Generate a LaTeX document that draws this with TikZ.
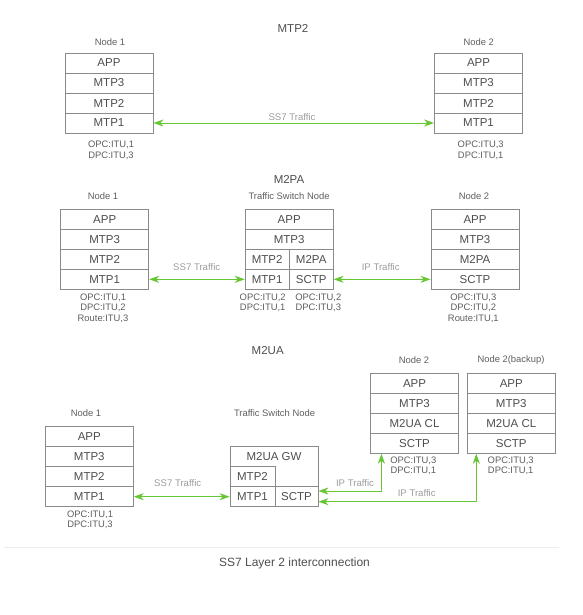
\documentclass[tikz,border=0pt]{standalone}
\usepackage{fontspec}
\setmainfont{Liberation Sans}
\usetikzlibrary{arrows.meta}
\definecolor{boxgray}{HTML}{8A8A8A}
\definecolor{labgray}{HTML}{5E5E5E}
\definecolor{textgray}{HTML}{4E4E4E}
\definecolor{trafgray}{HTML}{9C9C9C}
\definecolor{linkgreen}{HTML}{66C633}
\definecolor{rulegray}{HTML}{EEEEEE}
\begin{document}
\begin{tikzpicture}[x=1pt,y=-1pt,
    cell/.style={draw=boxgray,line width=0.8pt,minimum width=88pt,minimum height=20pt,
      inner sep=0pt,text=textgray,font=\fontsize{11.5}{13}\selectfont},
    lab/.style={text=labgray,font=\fontsize{9.4}{10.6}\selectfont,align=center,inner sep=0pt},
    title/.style={text=textgray,font=\fontsize{11.5}{13}\selectfont,inner sep=0pt},
    tlab/.style={text=trafgray,font=\fontsize{9.6}{11}\selectfont,inner sep=0pt},
    link/.style={draw=linkgreen,line width=1pt,
      {Stealth[length=10pt,width=7pt,inset=3pt]}-{Stealth[length=10pt,width=7pt,inset=3pt]}}]
  \useasboundingbox (0,0) rectangle (582,615);

  % MTP2
  \draw
    (293,28) node[title] (ttl1){MTP2}
    (110,42) node[lab] (a1name){Node 1}
    (109,63) node[cell] (a1app){APP}
    (109,83) node[cell] (a1mtp3){MTP3}
    (109,103) node[cell] (a1mtp2){MTP2}
    (109,123) node[cell] (a1mtp1){MTP1}
    (111,150.3) node[lab] (a1info){OPC:ITU,1\\DPC:ITU,3}
    (478.7,42) node[lab] (a2name){Node 2}
    (478.5,63) node[cell] (a2app){APP}
    (478.5,83) node[cell] (a2mtp3){MTP3}
    (478.5,103) node[cell] (a2mtp2){MTP2}
    (478.5,123) node[cell] (a2mtp1){MTP1}
    (480.7,150.3) node[lab] (a2info){OPC:ITU,3\\DPC:ITU,1}
    (292,117) node[tlab] (a12lab){SS7 Traffic};

  % M2PA
  \draw
    (289,179) node[title] (ttl2){M2PA}
    (103,196) node[lab] (b1name){Node 1}
    (104.7,219.3) node[cell] (b1app){APP}
    (104.7,239.3) node[cell] (b1mtp3){MTP3}
    (104.7,259.3) node[cell] (b1mtp2){MTP2}
    (104.7,279.3) node[cell] (b1mtp1){MTP1}
    (103,308.3) node[lab] (b1info){OPC:ITU,1\\DPC:ITU,2\\Route:ITU,3}
    (289,196) node[lab] (b2name){Traffic Switch Node}
    (289.2,219.3) node[cell] (b2app){APP}
    (289.2,239.3) node[cell] (b2mtp3){MTP3}
    (267.2,259.3) node[cell,minimum width=44pt] (b2mtp2){MTP2}
    (311.2,259.3) node[cell,minimum width=44pt] (b2m2pa){M2PA}
    (267.2,279.3) node[cell,minimum width=44pt] (b2mtp1){MTP1}
    (311.2,279.3) node[cell,minimum width=44pt] (b2sctp){SCTP}
    (262.7,302.7) node[lab] (b2info1){OPC:ITU,2\\DPC:ITU,1}
    (318.3,302.7) node[lab] (b2info2){OPC:ITU,2\\DPC:ITU,3}
    (474,196) node[lab] (b3name){Node 2}
    (475,219.3) node[cell] (b3app){APP}
    (475,239.3) node[cell] (b3mtp3){MTP3}
    (475,259.3) node[cell] (b3m2pa){M2PA}
    (475,279.3) node[cell] (b3sctp){SCTP}
    (473.3,308.3) node[lab] (b3info){OPC:ITU,3\\DPC:ITU,2\\Route:ITU,1}
    (196.7,266.7) node[tlab] (b12lab){SS7 Traffic}
    (380.7,266.7) node[tlab] (b23lab){IP Traffic};

  % M2UA
  \draw
    (267.7,350.7) node[title] (ttl3){M2UA}
    (86,412.7) node[lab] (c1name){Node 1}
    (89.3,436.7) node[cell] (c1app){APP}
    (89.3,456.7) node[cell] (c1mtp3){MTP3}
    (89.3,476.7) node[cell] (c1mtp2){MTP2}
    (89.3,496.7) node[cell] (c1mtp1){MTP1}
    (90,519.7) node[lab] (c1info){OPC:ITU,1\\DPC:ITU,3}
    (274.5,412.7) node[lab] (c2name){Traffic Switch Node}
    (274,476.7) node[cell,minimum height=60pt] (c2box){}
    (274,456.7) node[title] (c2gw){M2UA GW}
    (252.5,476.7) node[cell,minimum width=45pt] (c2mtp2){MTP2}
    (252.5,496.7) node[cell,minimum width=45pt] (c2mtp1){MTP1}
    (296.5,496.7) node[cell,minimum width=43pt] (c2sctp){SCTP}
    (414,360) node[lab] (c3name){Node 2}
    (414.5,383.3) node[cell] (c3app){APP}
    (414.5,403.3) node[cell] (c3mtp3){MTP3}
    (414.5,423.3) node[cell] (c3m2ua){M2UA CL}
    (414.5,443.3) node[cell] (c3sctp){SCTP}
    (413.3,466) node[lab] (c3info){OPC:ITU,3\\DPC:ITU,1}
    (511,360) node[lab] (c4name){Node 2(backup)}
    (511.3,383.3) node[cell] (c4app){APP}
    (511.3,403.3) node[cell] (c4mtp3){MTP3}
    (511.3,423.3) node[cell] (c4m2ua){M2UA CL}
    (511.3,443.3) node[cell] (c4sctp){SCTP}
    (510.7,466) node[lab] (c4info){OPC:ITU,3\\DPC:ITU,1}
    (177.7,483.3) node[tlab] (c12lab){SS7 Traffic}
    (355,483.3) node[tlab] (c23lab){IP Traffic}
    (416.7,493.3) node[tlab] (c24lab){IP Traffic};

  \begin{scope}[link]
    \draw (a1mtp1) to (a2mtp1);
    \draw (b1mtp1) to (b2mtp1);
    \draw (b2sctp) to (b3sctp);
    \draw (c1mtp1) to (c2mtp1);
    \draw ([yshift=5.7pt]c2sctp.east) -| ([xshift=11.3pt]c3sctp.south west);
    \draw ([yshift=-5pt]c2sctp.east) -| ([xshift=9.4pt]c4sctp.south west);
  \end{scope}

  \draw[rulegray,line width=0.8pt] (4,547.7) -- (559,547.7);
  \node[title,font=\fontsize{12}{14}\selectfont] (caption) at (294.5,563.3) {SS7 Layer 2 interconnection};
\end{tikzpicture}
\end{document}
